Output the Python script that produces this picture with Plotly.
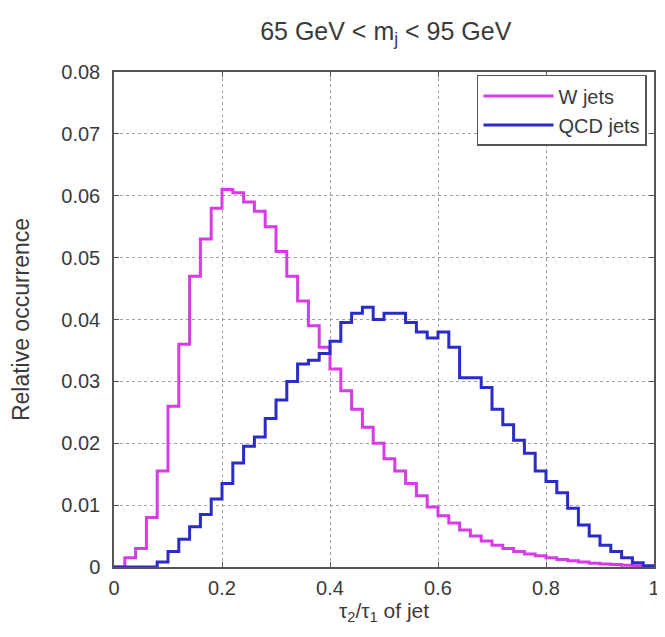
import plotly.graph_objects as go

bin_edges = [round(0.02 * i, 2) for i in range(51)]

w_jets = [0, 0.0015, 0.003, 0.008, 0.0155, 0.026, 0.036, 0.047, 0.053, 0.058,
          0.061, 0.0605, 0.059, 0.0575, 0.055, 0.051, 0.047, 0.043, 0.039, 0.0355,
          0.032, 0.0285, 0.0255, 0.0226, 0.020, 0.0175, 0.0155, 0.0135, 0.0115, 0.0097,
          0.0083, 0.0071, 0.006, 0.005, 0.0042, 0.0035, 0.003, 0.0025, 0.0021, 0.0018,
          0.0015, 0.0012, 0.001, 0.0008, 0.0006, 0.0005, 0.0004, 0.0003, 0.0002, 0.0001]

qcd_jets = [0, 0, 0, 0, 0.0008, 0.0025, 0.0045, 0.0065, 0.0085, 0.011,
            0.0135, 0.0168, 0.0195, 0.021, 0.024, 0.027, 0.030, 0.0328, 0.0334, 0.0345,
            0.0365, 0.0395, 0.041, 0.042, 0.040, 0.041, 0.041, 0.0395, 0.038, 0.037,
            0.038, 0.0355, 0.0306, 0.0306, 0.029, 0.0255, 0.023, 0.0205, 0.0184, 0.0155,
            0.0138, 0.012, 0.0095, 0.0068, 0.005, 0.0035, 0.0025, 0.0015, 0.0007, 0.0002]

x_ticks = [0, 0.2, 0.4, 0.6, 0.8, 1]
x_tick_labels = ["0", "0.2", "0.4", "0.6", "0.8", "1"]
y_ticks = [0, 0.01, 0.02, 0.03, 0.04, 0.05, 0.06, 0.07, 0.08]
y_tick_labels = ["0", "0.01", "0.02", "0.03", "0.04", "0.05", "0.06", "0.07", "0.08"]

fig = go.Figure()
fig.add_trace(go.Scatter(x=bin_edges, y=w_jets + [w_jets[-1]], mode="lines",
                         line=dict(shape="hv", color="#d63be6", width=3),
                         name="W jets"))
fig.add_trace(go.Scatter(x=bin_edges, y=qcd_jets + [qcd_jets[-1]], mode="lines",
                         line=dict(shape="hv", color="#2b2bc8", width=3),
                         name="QCD jets"))

axis_common = dict(showline=True, linecolor="#555555", linewidth=1.5, mirror="ticks",
                   ticks="inside", ticklen=5, tickcolor="#555555",
                   showgrid=True, gridcolor="#a0a0a0", griddash="dot", gridwidth=1,
                   zeroline=False, ticklabeloverflow="allow",
                   tickfont=dict(size=20, color="#3a3a3a"))

# page body has an 8px margin, so the figure is sized/offset to compensate
fig.update_layout(
    width=657, height=629,
    margin=dict(l=106, r=5, t=64, b=70),
    paper_bgcolor="white", plot_bgcolor="white",
    font=dict(family="Liberation Sans, Arial, sans-serif", color="#3a3a3a"),
    title=dict(text="65 GeV < m<sub>j</sub> < 95 GeV", x=0.575, xanchor="center",
               y=0.963, yanchor="middle", font=dict(size=25, color="#3a3a3a")),
    xaxis=dict(range=[0, 1], tickvals=x_ticks, ticktext=x_tick_labels,
               ticklabelstandoff=2, automargin=True,
               title=dict(text="τ<sub>2</sub>/τ<sub>1</sub> of jet", standoff=0,
                          font=dict(size=21)), **axis_common),
    yaxis=dict(range=[0, 0.08], tickvals=y_ticks, ticktext=y_tick_labels,
               ticklabelstandoff=8, automargin=False,
               title=dict(text="Relative occurrence", standoff=30,
                          font=dict(size=23)), **axis_common),
    legend=dict(x=0.987, y=0.994, xanchor="right", yanchor="top",
                bgcolor="white", bordercolor="#555555", borderwidth=1.5,
                itemwidth=70,
                font=dict(size=20, color="#3a3a3a"), tracegroupgap=0),
)

fig.write_html("out.html")
